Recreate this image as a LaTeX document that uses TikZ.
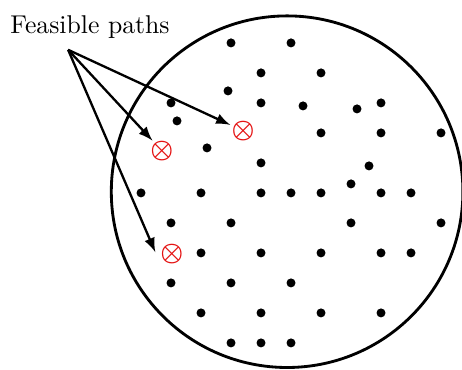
\documentclass[tikz,border=0pt]{standalone}
\usepackage{tikz,xcolor,amsmath,bm}
\definecolor{markRed}{RGB}{228,18,18}

\begin{document}
\begin{tikzpicture}[x=0.41cm, y=0.41cm, >=latex,
  xmark/.style={circle, inner sep=0pt, text=markRed},
  pathArrow/.style={->, line width=0.9pt, shorten >=-0.6pt}]

\useasboundingbox (-4.7,-5.9) rectangle (10.7,6.43);

% ── Feasible region ──
\draw[line width=1.1pt] (4.87,0.04) circle (5.86);

% ── Grid samples ──
\foreach \x/\y in {3/5, 5/5, 4/4, 6/4, 1/3, 4/3, 8/3, 6/2, 8/2, 10/2, 4/1,
                   0/0, 2/0, 4/0, 5/0, 6/0, 8/0, 9/0,
                   1/-1, 3/-1, 7/-1, 10/-1,
                   2/-2, 4/-2, 6/-2, 8/-2, 9/-2,
                   1/-3, 3/-3, 5/-3,
                   2/-4, 4/-4, 6/-4, 8/-4,
                   3/-5, 4/-5, 5/-5} {
  \fill (\x,\y) circle (1.75pt);
}

% ── Off-grid samples ──
\foreach \x/\y in {2.9/3.4, 5.4/2.9, 7.2/2.8, 1.2/2.4, 2.2/1.5, 7.6/0.9, 7.0/0.3} {
  \fill (\x,\y) circle (1.75pt);
}

% ── Infeasible samples ──
\node[xmark] (ox1) at (3.4,2.07) {$\bm{\otimes}$};
\node[xmark] (ox2) at (0.7,1.4) {$\bm{\otimes}$};
\node[xmark] (ox3) at (1.03,-2.05) {$\bm{\otimes}$};

% ── Label and paths ──
\node (lbl) at (-1.7,5.53) {Feasible paths};
\coordinate (src) at (-2.43,4.77);

\draw[pathArrow] (src) -- (ox1);
\draw[pathArrow] (src) -- (ox2);
\draw[pathArrow, shorten >=1pt] (src) -- (ox3.west);

\end{tikzpicture}
\end{document}
